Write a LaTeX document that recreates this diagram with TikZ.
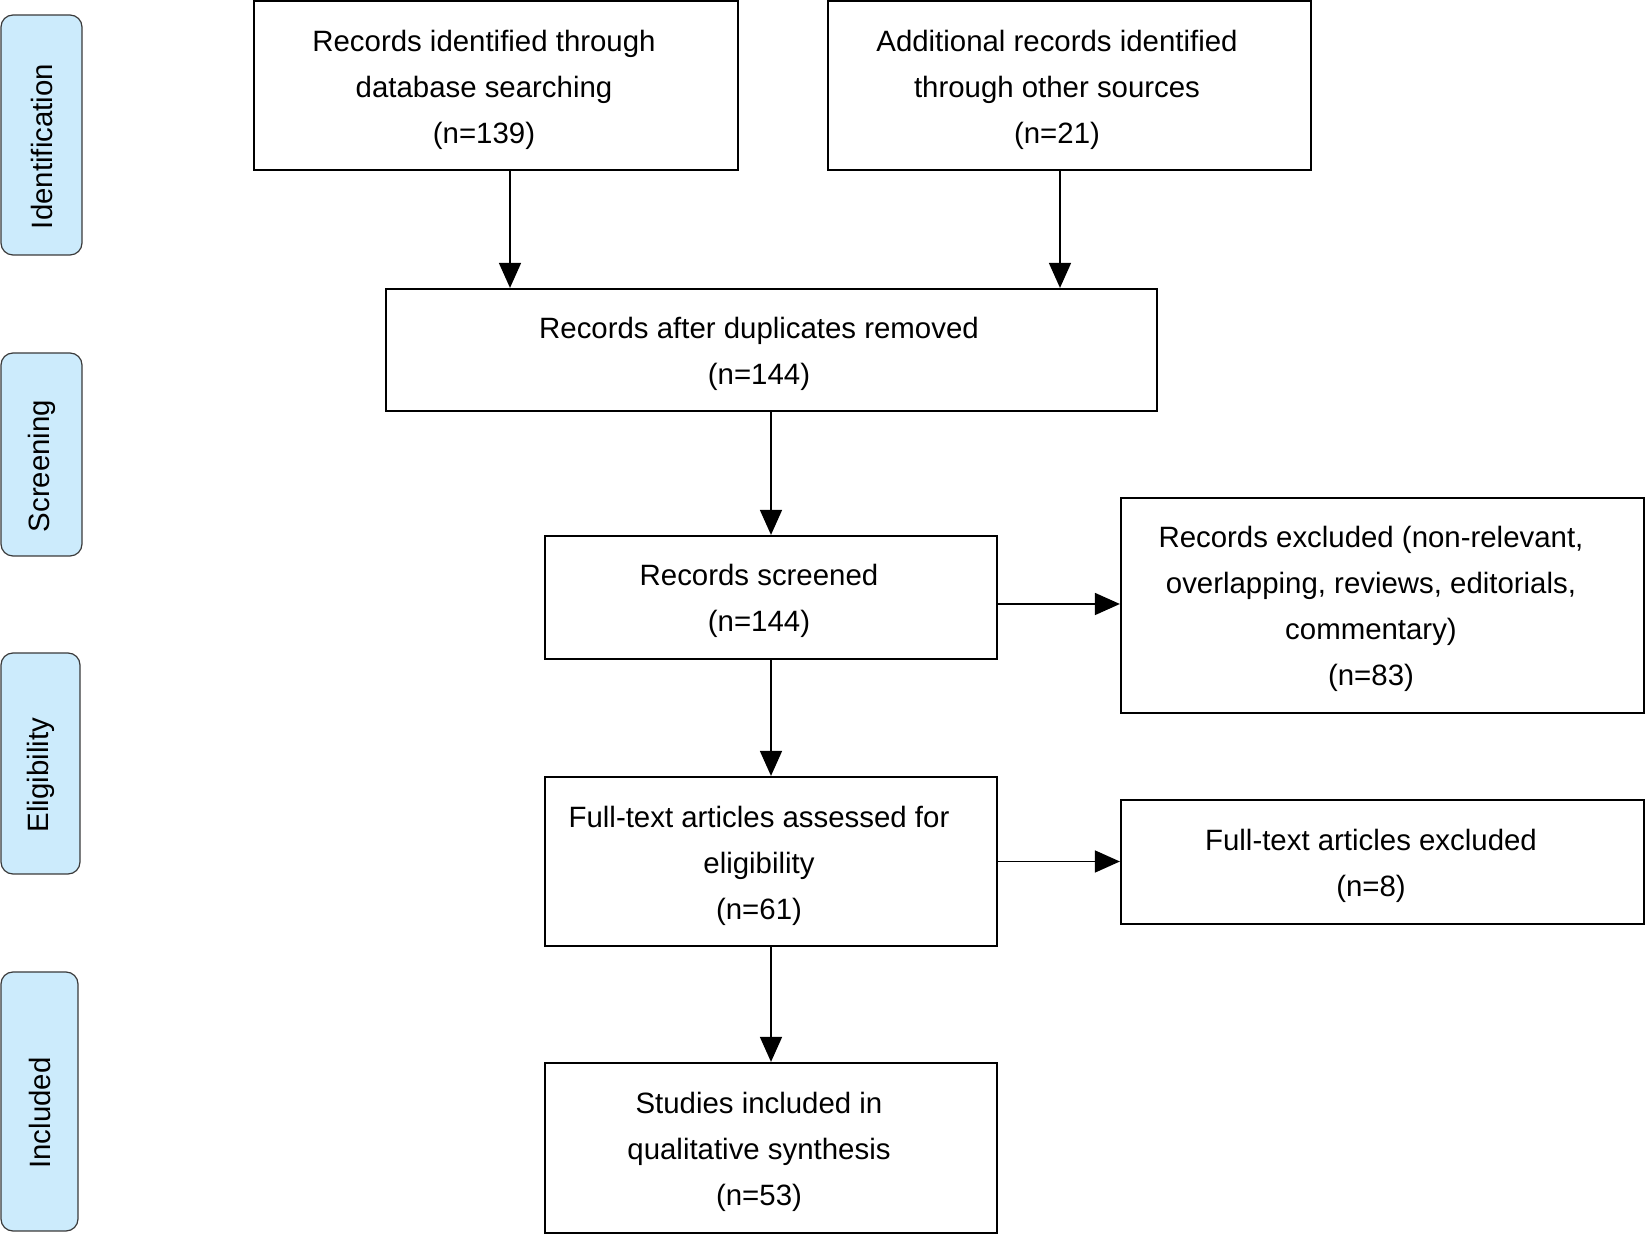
\documentclass[tikz,border=0pt]{standalone}
\usepackage{fontspec}
\setmainfont{Liberation Sans}
\usetikzlibrary{arrows.meta}
\definecolor{tabblue}{HTML}{CCEBFC}
\definecolor{tabedge}{HTML}{3A3A3A}
\tikzset{
  box/.style={draw=black, line width=1.1pt, rectangle, inner sep=0pt},
  txt/.style={align=center, inner sep=0pt, font=\fontsize{14.7}{23}\selectfont},
  tab/.style={draw=tabedge, fill=tabblue, line width=0.6pt, rounded corners=6pt, inner sep=0pt},
  tabtxt/.style={rotate=90, inner sep=0pt, font=\fontsize{14.7}{18}\selectfont},
  arr/.style={line width=0.8pt, -{Triangle[length=12.5pt,width=11pt]}}
}
\begin{document}
\begin{tikzpicture}[x=0.5pt,y=-0.5pt]
\useasboundingbox (0,0) rectangle (1646,1234);
% phase tabs
\node[tab, minimum width=40.5pt, minimum height=120pt] (tab1) at (41.5,135) {};
\node[tabtxt] (tab1t) at ([yshift=-5.75pt]tab1.center) {Identification};
\node[tab, minimum width=40.5pt, minimum height=101.5pt] (tab2) at (41.5,454.5) {};
\node[tabtxt] (tab2t) at ([yshift=-5.75pt]tab2.center) {Screening};
\node[tab, minimum width=39.5pt, minimum height=110.5pt] (tab3) at (40.5,763.5) {};
\node[tabtxt] (tab3t) at ([yshift=-5.75pt]tab3.center) {Eligibility};
\node[tab, minimum width=38.5pt, minimum height=129.5pt] (tab4) at (39.5,1101.5) {};
\node[tabtxt] (tab4t) at ([yshift=-5.75pt]tab4.center) {Included};
% boxes
\node[box, minimum width=242pt, minimum height=84.5pt] (b1) at (496,85.5) {};
\node[txt] (b1t) at (484,90) {Records identified through\\database searching\\(n=139)};
\node[box, minimum width=241.5pt, minimum height=84.5pt] (b2) at (1069.5,85.5) {};
\node[txt] (b2t) at (1057,90) {Additional records identified\\through other sources\\(n=21)};
\node[box, minimum width=385.5pt, minimum height=61pt] (b3) at (771.5,350) {};
\node[txt] (b3t) at (759,354) {Records after duplicates removed\\(n=144)};
\node[box, minimum width=226pt, minimum height=61.5pt] (scr) at (771,597.5) {};
\node[txt] (scrt) at (759,601) {Records screened\\(n=144)};
\node[box, minimum width=261.5pt, minimum height=107.5pt] (ex1) at (1382.5,605.5) {};
\node[txt] (ex1t) at (1371,608.5) {Records excluded (non-relevant,\\overlapping, reviews, editorials,\\commentary)\\(n=83)};
\node[box, minimum width=226pt, minimum height=84.5pt] (ft) at (771,861.5) {};
\node[txt] (ftt) at (759,866) {Full-text articles assessed for\\eligibility\\(n=61)};
\node[box, minimum width=261.5pt, minimum height=62pt] (ex2) at (1382.5,862) {};
\node[txt] (ex2t) at (1371,866) {Full-text articles excluded\\(n=8)};
\node[box, minimum width=226pt, minimum height=85pt] (inc) at (771,1148) {};
\node[txt] (inct) at (759,1152) {Studies included in\\qualitative synthesis\\(n=53)};
% connectors
\coordinate (s1) at ([yshift=-3.25pt]scr.east);
\draw[arr] ([xshift=7pt]b1.south) -- ([xshift=7pt]b1.south |- b3.north);
\draw[arr] ([xshift=-4.75pt]b2.south) -- ([xshift=-4.75pt]b2.south |- b3.north);
\draw[arr] (scr.north |- b3.south) -- (scr.north);
\draw[arr] (s1) -- (ex1.west |- s1);
\draw[arr] (scr.south) -- (ft.north);
\draw[arr] (ft.east) -- (ex2.west |- ft.east);
\draw[arr] (ft.south) -- (inc.north);
\end{tikzpicture}
\end{document}
